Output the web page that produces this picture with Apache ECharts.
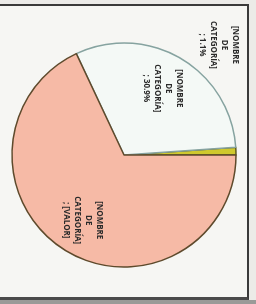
<!DOCTYPE html>
<html>
<head>
<meta charset="utf-8">
<script src="https://cdn.jsdelivr.net/npm/echarts@6/dist/echarts.min.js"></script>
<style>
  html, body { margin: 0; padding: 0; background: #ecebe8; }
  #frame {
    position: absolute; left: 0; top: 4px; width: 247px; height: 291px;
    background: #f6f6f3;
    border-top: 2px solid #3a3a3a;
    border-right: 2px solid #3a3a3a;
    border-bottom: 3px solid #4a4a4a;
  }
  #shade { position: absolute; left: 0; top: 300px; width: 256px; height: 4px; background: #9a9a98; }
  #chart { position: absolute; left: 0; top: 0; width: 256px; height: 304px; }
</style>
</head>
<body>
<div id="frame"></div>
<div id="shade"></div>
<div id="chart"></div>
<script>
// valores del gráfico (porcentajes)
var categorias = ['A', 'B', 'C']
var valores = [1.1, 30.9, 68.0]
var etiquetas = [
  '[NOMBRE\nDE\nCATEGORÍA]\n; 1.1%',
  '[NOMBRE\nDE\nCATEGORÍA]\n; 30.9%',
  '[NOMBRE\nDE\nCATEGORÍA]\n; [VALOR]'
]
var colores = ['#cfc92e', '#f4f9f6', '#f6baa6']
var bordes = ['#5d5a1e', '#86a3a0', '#5e4a2c']

var chart = echarts.init(document.getElementById('chart'))
var cx = 124
var cy = 155
var R = 112

// ángulo medio de cada porción (grados, antihorario desde 0)
var total = valores.reduce(function (a, b) { return a + b }, 0)
var acum = 0
var medios = valores.map(function (v) {
  var m = (acum + v / 2) / total * 360
  acum += v
  return m
})

chart.setOption({
  animation: false,
  backgroundColor: 'transparent',
  series: [{
    type: 'pie',
    center: [cx, cy],
    radius: R,
    startAngle: 0,
    clockwise: false,
    label: {
      show: true,
      position: 'inside',
      rotate: -90,
      fontFamily: "'Liberation Sans Narrow', 'Open Sans'",
      fontWeight: 'bold',
      fontSize: 8,
      lineHeight: 11,
      color: '#2b2b2b',
      formatter: function (p) {
        return etiquetas[p.dataIndex]
      }
    },
    labelLine: { show: false },
    labelLayout: function (p) {
      if (p.dataIndex === 0) {
        return { x: 219, y: 45, align: 'center', verticalAlign: 'middle' }
      }
      var a = medios[p.dataIndex] * Math.PI / 180
      return {
        x: cx + Math.cos(a) * R * 0.69,
        y: cy - Math.sin(a) * R * 0.69,
        align: 'center',
        verticalAlign: 'middle'
      }
    },
    data: categorias.map(function (c, i) {
      return {
        name: c,
        value: valores[i],
        itemStyle: { color: colores[i], borderColor: bordes[i], borderWidth: 1.5 }
      }
    })
  }]
})
</script>
</body>
</html>
